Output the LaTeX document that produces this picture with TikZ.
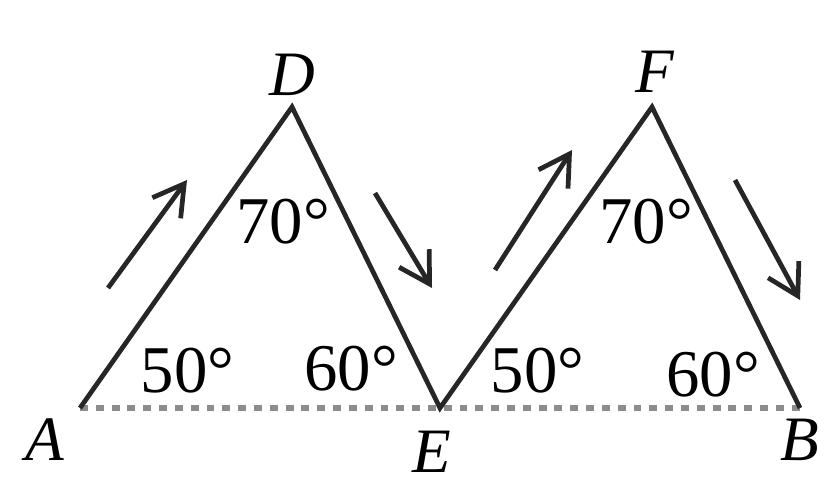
\documentclass[tikz,border=0pt]{standalone}
\usepackage{fontspec}
\setmainfont{Liberation Serif}
\usetikzlibrary{arrows.meta,positioning}
\tikzset{
  side/.style={line width=2.7pt,black!85},
  base/.style={line width=3.2pt,gray!90,dash pattern=on 4.5pt off 4.5pt},
  mv/.style={line width=2.7pt,black!85,-{Straight Barb[length=6mm,width=7mm,line width=2.7pt]}},
  ptlbl/.style={font=\fontsize{36}{42}\selectfont\itshape},
  anglbl/.style={font=\fontsize{38}{44}\selectfont}
}
\begin{document}
\begin{tikzpicture}
  \useasboundingbox (0,0) rectangle (16.52,9.72);
  \coordinate (A) at (1.6,1.56);
  \coordinate (D) at (5.84,7.58);
  \coordinate (E) at (8.8,1.56);
  \coordinate (F) at (13.04,7.58);
  \coordinate (B) at (16.0,1.56);

  \draw[base] (A)--(B);
  \draw[side] (A)--(D)--(E)--(F)--(B);

  \node[ptlbl] (lA) at (0.9,0.92) {A};
  \node[ptlbl] (lD) at (5.84,8.22) {D};
  \node[ptlbl] (lE) at (8.64,0.68) {E};
  \node[ptlbl] (lF) at (13.1,8.28) {F};
  \node[ptlbl] (lB) at (16.0,0.92) {B};

  \node[anglbl] (a1) at (3.75,2.3) {50°};
  \node[anglbl] (a2) at (5.66,5.28) {70°};
  \node[anglbl] (a3) at (7.02,2.34) {60°};
  \node[anglbl] (a4) at (10.75,2.3) {50°};
  \node[anglbl] (a5) at (12.92,5.28) {70°};
  \node[anglbl] (a6) at (14.26,2.22) {60°};

  \coordinate (m1s) at (2.16,3.96);  \coordinate (m1e) at (3.74,6.12);
  \coordinate (m2s) at (7.5,5.86);   \coordinate (m2e) at (8.64,3.96);
  \coordinate (m3s) at (9.9,4.32);   \coordinate (m3e) at (11.44,6.72);
  \coordinate (m4s) at (14.7,6.12);  \coordinate (m4e) at (16.0,3.72);
  \draw[mv] (m1s)--(m1e);
  \draw[mv] (m2s)--(m2e);
  \draw[mv] (m3s)--(m3e);
  \draw[mv] (m4s)--(m4e);
\end{tikzpicture}
\end{document}
